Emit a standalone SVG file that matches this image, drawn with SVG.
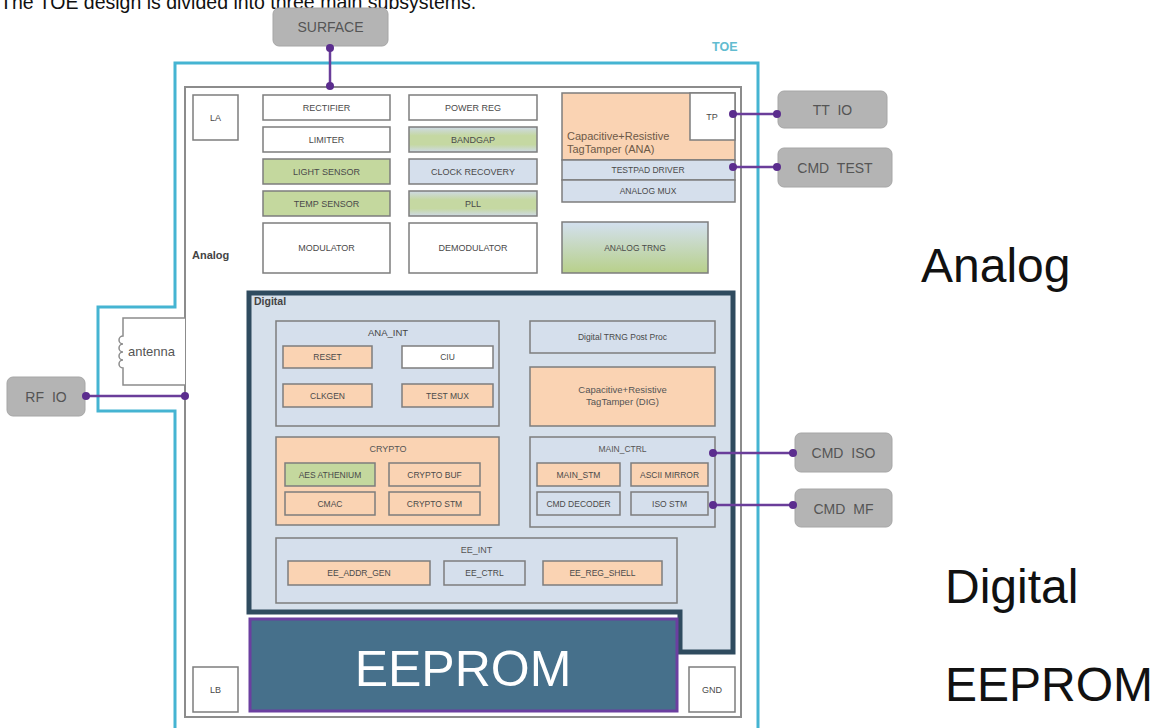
<svg xmlns="http://www.w3.org/2000/svg" width="1158" height="728" viewBox="0 0 1158 728">
<style>
text{font-family:"Liberation Sans",Arial,sans-serif}
.bx{stroke:#7d7d7d;stroke-width:1.5}
.w{fill:#fff}
.o{fill:#fad3b3}
.b{fill:#d5dfec}
.g{fill:#c4d89e}
.t9{font-size:9px;fill:#4a4a4a;text-anchor:middle}
.t8{font-size:8.5px;fill:#4a4a4a;text-anchor:middle}
.pad{fill:#b4b4b4;stroke:#a6a6a6;stroke-width:1}
.pt{font-size:14px;fill:#555;text-anchor:middle;word-spacing:4px}
.big{font-size:48px;fill:#111}
.wire{stroke:#6a3d9a;stroke-width:2.5;fill:none}
.dot{fill:#5b2d8e}
</style>
<defs>
<linearGradient id="gbg" x1="0" y1="0" x2="0" y2="1">
<stop offset="0" stop-color="#cfdae6"/><stop offset="0.35" stop-color="#c5d8a2"/><stop offset="0.7" stop-color="#c5d8a2"/><stop offset="1" stop-color="#cfdae6"/>
</linearGradient>
<linearGradient id="gtr" x1="0" y1="0" x2="0" y2="1">
<stop offset="0" stop-color="#d3e0ef"/><stop offset="1" stop-color="#b8d08a"/>
</linearGradient>
</defs>
<rect width="1158" height="728" fill="#fff"/>
<text x="0" y="9" font-size="19.5" fill="#111">The TOE design is divided into three main subsystems.</text>

<g id="toe">
<path d="M175,735 V411 H98 V307 H175 V63 H758 V735" fill="none" stroke="#45b4d2" stroke-width="3"/>
<text x="712" y="51" font-size="12.5" font-weight="bold" fill="#62bcd0">TOE</text>
</g>

<g id="analog">
<rect x="185" y="87" width="556" height="630" fill="#fff" stroke="#8c8c8c" stroke-width="2"/>
<text x="192" y="259" font-size="11" font-weight="bold" fill="#444">Analog</text>
</g>

<g id="antenna">
<path d="M185,318 H123 V336 a4,4 0 0 0 0,8 a4,4 0 0 0 0,8 a4,4 0 0 0 0,8 a4,4 0 0 0 0,8 V385 H185" fill="#fff" stroke="#8c8c8c" stroke-width="1.5"/>
<text x="128" y="356" font-size="13" fill="#555">antenna</text>
</g>

<g id="la"><rect class="bx w" x="193" y="95" width="45" height="45"/><text class="t9" x="215.5" y="121">LA</text></g>
<g id="lb"><rect class="bx w" x="193" y="667" width="45" height="45"/><text class="t9" x="215.5" y="693">LB</text></g>
<g id="gnd"><rect class="bx w" x="689" y="667" width="46" height="45"/><text class="t9" x="712" y="693">GND</text></g>

<g id="rectifier"><rect class="bx w" x="263" y="95" width="127" height="25"/><text class="t9" x="326.5" y="111">RECTIFIER</text></g>
<g id="limiter"><rect class="bx w" x="263" y="127" width="127" height="25"/><text class="t9" x="326.5" y="143">LIMITER</text></g>
<g id="light-sensor"><rect class="bx g" x="263" y="159" width="127" height="25"/><text class="t9" x="326.5" y="175">LIGHT SENSOR</text></g>
<g id="temp-sensor"><rect class="bx g" x="263" y="191" width="127" height="25"/><text class="t9" x="326.5" y="207">TEMP SENSOR</text></g>
<g id="modulator"><rect class="bx w" x="263" y="223" width="127" height="50"/><text class="t9" x="326.5" y="251">MODULATOR</text></g>

<g id="power-reg"><rect class="bx w" x="409" y="95" width="128" height="25"/><text class="t9" x="473" y="111">POWER REG</text></g>
<g id="bandgap"><rect class="bx" fill="url(#gbg)" x="409" y="127" width="128" height="25"/><text class="t9" x="473" y="143">BANDGAP</text></g>
<g id="clock-recovery"><rect class="bx b" x="409" y="159" width="128" height="25"/><text class="t9" x="473" y="175">CLOCK RECOVERY</text></g>
<g id="pll"><rect class="bx" fill="url(#gbg)" x="409" y="191" width="128" height="25"/><text class="t9" x="473" y="207">PLL</text></g>
<g id="demodulator"><rect class="bx w" x="409" y="223" width="128" height="50"/><text class="t9" x="473" y="251">DEMODULATOR</text></g>

<g id="tagtamper-ana">
<rect class="bx o" x="562" y="93" width="173" height="67"/>
<text x="567" y="140" font-size="11" fill="#6e5a48">Capacitive+Resistive</text>
<text x="567" y="153" font-size="11" fill="#6e5a48">TagTamper (ANA)</text>
</g>
<g id="tp"><rect class="bx w" x="690" y="93" width="45" height="47"/><text class="t9" x="712" y="120">TP</text></g>
<g id="testpad-driver"><rect class="bx b" x="562" y="160" width="173" height="20"/><text class="t8" x="648" y="173">TESTPAD DRIVER</text></g>
<g id="analog-mux"><rect class="bx b" x="562" y="180" width="173" height="22"/><text class="t8" x="648" y="194">ANALOG MUX</text></g>
<g id="analog-trng"><rect class="bx" fill="url(#gtr)" x="562" y="222" width="146" height="51"/><text class="t8" x="635" y="251">ANALOG TRNG</text></g>

<g id="digital">
<polygon points="249,293 733,293 733,652 680,652 680,612 249,612" fill="#d6e0eb" stroke="#2f4b5f" stroke-width="5"/>
<text x="254" y="305" font-size="10.5" font-weight="bold" fill="#444">Digital</text>
</g>

<g id="ana-int">
<rect class="bx b" x="276" y="321" width="223" height="105"/>
<text x="388" y="336" font-size="9.5" fill="#444" text-anchor="middle">ANA_INT</text>
</g>
<g id="reset"><rect class="bx o" x="283" y="346" width="89" height="22"/><text class="t8" x="327.5" y="360">RESET</text></g>
<g id="ciu"><rect class="bx w" x="402" y="346" width="91" height="22"/><text class="t8" x="447.5" y="360">CIU</text></g>
<g id="clkgen"><rect class="bx o" x="283" y="384" width="89" height="23"/><text class="t8" x="327.5" y="398.5">CLKGEN</text></g>
<g id="test-mux"><rect class="bx o" x="402" y="384" width="91" height="23"/><text class="t8" x="447.5" y="398.5">TEST MUX</text></g>

<g id="trng-post"><rect class="bx b" x="530" y="321" width="185" height="32"/><text class="t8" x="622.5" y="340">Digital TRNG Post Proc</text></g>
<g id="tagtamper-dig">
<rect class="bx o" x="530" y="367" width="185" height="59"/>
<text x="622.5" y="393" font-size="9.5" fill="#555" text-anchor="middle">Capacitive+Resistive</text>
<text x="622.5" y="405" font-size="9.5" fill="#555" text-anchor="middle">TagTamper (DIG)</text>
</g>

<g id="crypto">
<rect class="bx o" x="276" y="437" width="223" height="88"/>
<text x="388" y="452" font-size="9" fill="#555" text-anchor="middle">CRYPTO</text>
</g>
<g id="aes"><rect class="bx g" x="285" y="463" width="90" height="23"/><text class="t8" x="330" y="477.5">AES ATHENIUM</text></g>
<g id="crypto-buf"><rect class="bx o" x="389" y="463" width="91" height="23"/><text class="t8" x="434.5" y="477.5">CRYPTO BUF</text></g>
<g id="cmac"><rect class="bx o" x="285" y="492" width="90" height="23"/><text class="t8" x="330" y="506.5">CMAC</text></g>
<g id="crypto-stm"><rect class="bx o" x="389" y="492" width="91" height="23"/><text class="t8" x="434.5" y="506.5">CRYPTO STM</text></g>

<g id="main-ctrl">
<rect class="bx b" x="530" y="437" width="185" height="90"/>
<text x="622.5" y="452" font-size="8.5" fill="#555" text-anchor="middle">MAIN_CTRL</text>
</g>
<g id="main-stm"><rect class="bx o" x="537" y="463" width="83" height="23"/><text class="t8" x="578.5" y="477.5">MAIN_STM</text></g>
<g id="ascii-mirror"><rect class="bx o" x="631" y="463" width="77" height="23"/><text class="t8" x="669.5" y="477.5">ASCII MIRROR</text></g>
<g id="cmd-decoder"><rect class="bx b" x="537" y="492" width="83" height="23"/><text class="t8" x="578.5" y="506.5">CMD DECODER</text></g>
<g id="iso-stm"><rect class="bx b" x="631" y="492" width="77" height="23"/><text class="t8" x="669.5" y="506.5">ISO STM</text></g>

<g id="ee-int">
<rect class="bx b" x="276" y="538" width="401" height="65"/>
<text x="476.5" y="553" font-size="9" fill="#555" text-anchor="middle">EE_INT</text>
</g>
<g id="ee-addr-gen"><rect class="bx o" x="288" y="561" width="142" height="24"/><text class="t8" x="359" y="576">EE_ADDR_GEN</text></g>
<g id="ee-ctrl"><rect class="bx b" x="444" y="561" width="81" height="24"/><text class="t8" x="484.5" y="576">EE_CTRL</text></g>
<g id="ee-reg-shell"><rect class="bx o" x="543" y="561" width="119" height="24"/><text class="t8" x="602.5" y="576">EE_REG_SHELL</text></g>

<g id="eeprom">
<rect x="250" y="619" width="427" height="92" fill="#46708b" stroke="#6b3fa0" stroke-width="3"/>
<text x="463" y="686" font-size="50" fill="#fff" text-anchor="middle">EEPROM</text>
</g>

<g id="surface"><rect class="pad" x="273" y="8" width="115" height="38" rx="6"/><text class="pt" x="330.5" y="32">SURFACE</text></g>
<g id="tt-io"><rect class="pad" x="778" y="91" width="109" height="37" rx="6"/><text class="pt" x="832.5" y="115">TT IO</text></g>
<g id="cmd-test"><rect class="pad" x="778" y="148" width="114" height="39" rx="6"/><text class="pt" x="835" y="173">CMD TEST</text></g>
<g id="rf-io"><rect class="pad" x="7" y="377" width="78" height="39" rx="6"/><text class="pt" x="46" y="402">RF IO</text></g>
<g id="cmd-iso"><rect class="pad" x="795" y="433" width="97" height="39" rx="6"/><text class="pt" x="843.5" y="458">CMD ISO</text></g>
<g id="cmd-mf"><rect class="pad" x="795" y="489" width="97" height="38" rx="6"/><text class="pt" x="843.5" y="514">CMD MF</text></g>

<g id="connectors">
<line class="wire" x1="330" y1="48" x2="330" y2="86"/>
<line class="wire" x1="733" y1="114" x2="777" y2="114"/>
<line class="wire" x1="733" y1="167" x2="777" y2="167"/>
<line class="wire" x1="86" y1="396" x2="185" y2="396"/>
<line class="wire" x1="713" y1="453" x2="793" y2="453"/>
<line class="wire" x1="713" y1="505" x2="793" y2="505"/>
<circle class="dot" cx="330" cy="48" r="4"/><circle class="dot" cx="330" cy="86" r="4"/>
<circle class="dot" cx="733" cy="114" r="4"/><circle class="dot" cx="777" cy="114" r="4"/>
<circle class="dot" cx="733" cy="167" r="4"/><circle class="dot" cx="777" cy="167" r="4"/>
<circle class="dot" cx="86" cy="396" r="4"/><circle class="dot" cx="185" cy="396" r="4"/>
<circle class="dot" cx="713" cy="453" r="4"/><circle class="dot" cx="793" cy="453" r="4"/>
<circle class="dot" cx="713" cy="505" r="4"/><circle class="dot" cx="793" cy="505" r="4"/>
</g>

<g id="subsystem-labels">
<text class="big" x="921" y="282">Analog</text>
<text class="big" x="945" y="603">Digital</text>
<text class="big" x="945" y="701">EEPROM</text>
</g>
</svg>
